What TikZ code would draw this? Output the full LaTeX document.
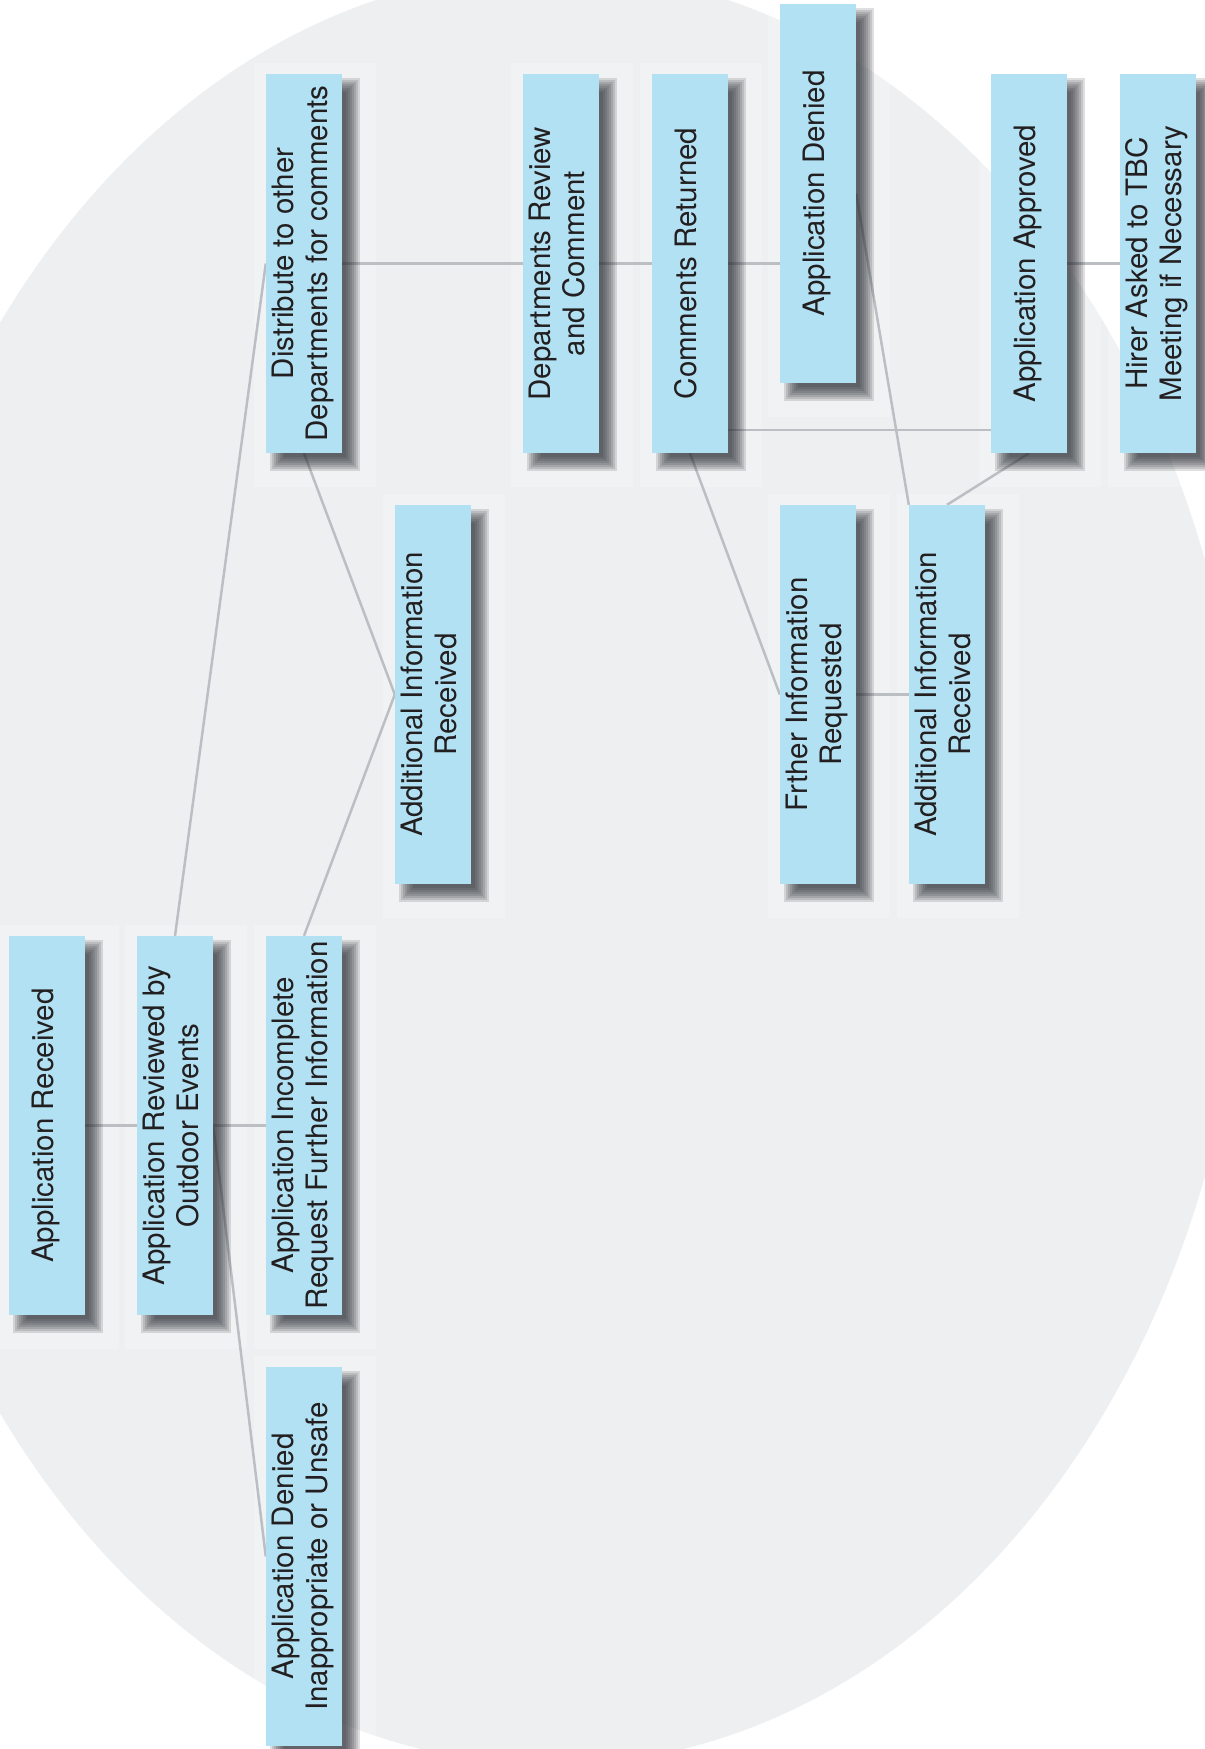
\documentclass[tikz,border=0pt]{standalone}
\usepackage{fontspec}
\setmainfont{TeX Gyre Heros}
\usepackage{graphicx}
\usetikzlibrary{calc}
\definecolor{bgcol}{HTML}{EEEFF1}
\definecolor{boxblue}{HTML}{B2E1F3}
\definecolor{linecol}{HTML}{BBBFC4}
\definecolor{txtcol}{HTML}{231F20}
\definecolor{shadcol}{HTML}{2A2D33}
\pgfdeclarelayer{back}
\pgfdeclarelayer{pads}
\pgfdeclarelayer{lines}
\pgfdeclarelayer{shadows}
\pgfsetlayers{back,pads,lines,shadows,main}
\newcommand{\vtext}[1]{\rotatebox{90}{\begin{tabular}{@{}c@{}}#1\end{tabular}}}
\tikzset{
  stepbox/.style={rectangle, fill=boxblue, draw=none, inner sep=0pt,
    minimum width=76pt, minimum height=379pt, text=txtcol,
    font=\fontsize{29.5}{33.5}\selectfont},
  conn/.style={draw=linecol, line width=2.5pt},
}
\begin{document}
\begin{tikzpicture}[x=1pt,y=-1pt]
\useasboundingbox (0,0) rectangle (1205,1749);
\clip (0,0) rectangle (1205,1749);
\begin{pgfonlayer}{back}
  \fill[white] (0,0) rectangle (1205,1749);
  \fill[bgcol] (552,868) ellipse [x radius=695pt, y radius=897pt];
\end{pgfonlayer}

\node[stepbox] (ar)    at (47,1125.5)  {\vtext{Application Received}};
\node[stepbox] (rev)   at (175,1125.5) {\vtext{Application Reviewed by\\Outdoor Events}};
\node[stepbox] (inc)   at (304,1125.5) {\vtext{Application Incomplete\\Request Further Information}};
\node[stepbox] (den1)  at (304,1556.5) {\vtext{Application Denied\\Inappropriate or Unsafe}};
\node[stepbox] (dist)  at (304,263.5)  {\vtext{Distribute to other\\Departments for comments}};
\node[stepbox] (air1)  at (433,694.5)  {\vtext{Additional Information\\Received}};
\node[stepbox] (drc)   at (561,263.5)  {\vtext{Departments Review\\and Comment}};
\node[stepbox] (cr)    at (690,263.5)  {\vtext{Comments Returned}};
\node[stepbox] (ad)    at (818,193.5)  {\vtext{Application Denied}};
\node[stepbox] (fir)   at (818,694.5)  {\vtext{Frther Information\\Requested}};
\node[stepbox] (air2)  at (947,694.5)  {\vtext{Additional Information\\Received}};
\node[stepbox] (aa)    at (1029,263.5) {\vtext{Application Approved}};
\node[stepbox] (hirer) at (1158,263.5) {\vtext{Hirer Asked to TBC\\Meeting if Necessary}};

\begin{pgfonlayer}{pads}
\foreach \n in {ar,rev,inc,den1,dist,air1,drc,cr,ad,fir,air2,aa,hirer}{
  \fill[white,opacity=0.2] ([xshift=-12pt,yshift=11pt]\n.north west) rectangle ([xshift=34pt,yshift=-34pt]\n.south east);
}
\end{pgfonlayer}

\begin{pgfonlayer}{shadows}
\foreach \n in {ar,rev,inc,den1,dist,air1,drc,cr,ad,fir,air2,aa,hirer}{
  \foreach \d in {-7,-5,-3,-1,1,3,5,7}{
    \fill[shadcol,opacity=0.15] ([xshift={11pt-(\d pt)},yshift={-11pt+(\d pt)}]\n.north west) rectangle ([xshift={11pt+(\d pt)},yshift={-11pt-(\d pt)}]\n.south east);
  }
}
\end{pgfonlayer}

\begin{pgfonlayer}{lines}
\draw[conn] (ar.east) -- (rev.west);
\draw[conn] (rev.east) -- (inc.west);
\draw[conn] (rev.north) -- (dist.west);
\draw[conn] (rev.east) -- (den1.west);
\draw[conn] (inc.north) -- (air1.west);
\draw[conn] (dist.south) -- (air1.west);
\draw[conn] (dist.east) -- (drc.west);
\draw[conn] (drc.east) -- (cr.west);
\draw[conn] (cr.east) -- (cr.east -| ad.west);
\coordinate (c1) at ([yshift=23pt]cr.south east);
\draw[conn] (c1) -- (c1 -| aa.west);
\draw[conn] (aa.east) -- (hirer.west);
\draw[conn] (cr.south) -- (fir.west);
\draw[conn] (fir.east) -- (air2.west);
\draw[conn] (ad.east) -- (air2.north west);
\draw[conn] (aa.south) -- (air2.north);
\end{pgfonlayer}
\end{tikzpicture}
\end{document}
